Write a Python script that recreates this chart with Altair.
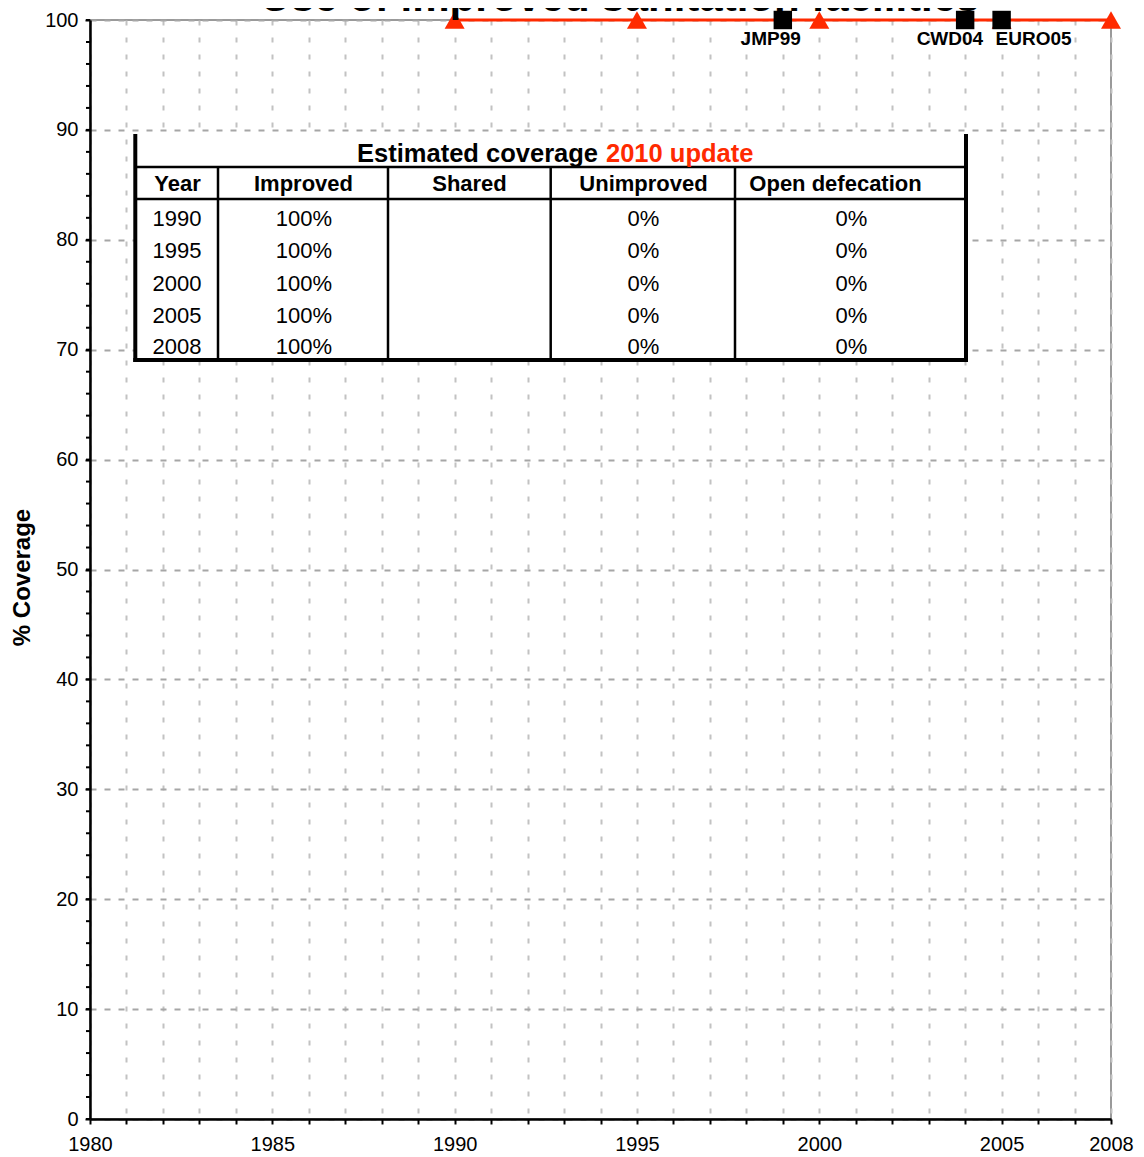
import altair as alt
import pandas as pd

# ---------------- data ----------------
est_years = [1990, 1995, 2000, 2005, 2008]
est_improved = [100, 100, 100, 100, 100]
est_shared = ["", "", "", "", ""]
est_unimproved = [0, 0, 0, 0, 0]
est_open = [0, 0, 0, 0, 0]

survey_names = ["JMP99", "CWD04", "EURO05"]
survey_years = [1999, 2004, 2005]
survey_improved = [100, 100, 100]

x_ticks = list(range(1980, 2009))
y_ticks = list(range(0, 101, 10))
y_minor = list(range(0, 101, 2))

chart_title = "Use of improved sanitation facilities"
y_title = "% Coverage"
table_title = "Estimated coverage"
table_title_red = "2010 update"
table_headers = ["Year", "Improved", "Shared", "Unimproved", "Open defecation"]

# ---------------- layout / style ----------------
W, H = 1021, 1099
X0, X1 = 1980, 2008
RED = "#FF2A00"
FONT = "Liberation Sans"


def ux(px):
    return X0 + px * (X1 - X0) / W


def uy(py):
    return 100 - py * 100 / H


xs = alt.Scale(domain=[X0, X1], nice=False, zero=False)
ys = alt.Scale(domain=[0, 100], nice=False, zero=False)

xaxis = alt.Axis(values=x_ticks, format="d", title=None,
                 labelExpr="(datum.value % 5 == 0 || datum.value == 2008) ? datum.label : ''",
                 labelBaseline="alphabetic", labelPadding=26, labelFontSize=20, labelFlush=False,
                 labelOverlap=False,
                 gridDash=[5, 12], gridColor="#c2c2c2", gridWidth=2, tickSize=5)
yaxis = alt.Axis(values=y_ticks, title=y_title, titleFont=FONT, titleFontSize=24,
                 titleFontWeight="bold", titleX=-68, titleY=557, titleBaseline="middle",
                 titleAlign="center", titleAngle=-90, labelPadding=7, labelFontSize=20,
                 labelFlush=False,
                 gridDash=[6, 8], gridColor="#a6a6a6", gridWidth=2, tickSize=5)


def X(f):
    return alt.X(f, scale=xs, axis=xaxis)


def Y(f):
    return alt.Y(f, scale=ys, axis=yaxis)


# table geometry in plot pixels (converted to data units)
T_L, T_R, T_T, T_B = 45.3, 876, 116, 340
LINE1, LINE2 = 147, 179
COL_LINES = [128, 298, 460.7, 645]
COL_CX = [87, 214, 379.5, 553.5, 761.5]
HEAD_CX = [87.5, 213.5, 379.5, 553.5, 745.5]
ROW_BASE = [206, 238, 271, 303, 334]
HEAD_BASE = 171
TITLE_BASE = 141.5

# ---------------- main series ----------------
est_df = pd.DataFrame({"year": est_years, "value": est_improved})
survey_df = pd.DataFrame({"year": survey_years, "value": survey_improved, "name": survey_names})

line = alt.Chart(est_df).mark_line(color=RED, strokeWidth=3).encode(
    x=X("year:Q"), y=Y("value:Q"))

tri = alt.Chart(est_df).mark_point(shape="triangle-up", filled=True, color=RED, size=400, opacity=1).encode(
    x=X("year:Q"), y=Y("value:Q"))

sq = alt.Chart(survey_df).mark_point(shape="square", filled=True, color="black", size=340, opacity=1).encode(
    x=X("year:Q"), y=Y("value:Q"))

lab_r = alt.Chart(survey_df).transform_filter("datum.year < 2005").mark_text(
    font=FONT, fontSize=19, fontWeight="bold", align="right", baseline="alphabetic", dx=18, dy=25, color="black"
).encode(x=X("year:Q"), y=Y("value:Q"), text="name:N")

lab_l = alt.Chart(survey_df).transform_filter("datum.year >= 2005").mark_text(
    font=FONT, fontSize=19, fontWeight="bold", align="left", baseline="alphabetic", dx=-6, dy=25, color="black"
).encode(x=X("year:Q"), y=Y("value:Q"), text="name:N")

minor = alt.Chart(pd.DataFrame({"value": y_minor})).mark_rule(color="black", strokeWidth=2).encode(
    y=Y("value:Q"), x=alt.value(-4), x2=alt.value(0))

# ---------------- table ----------------
bg_df = pd.DataFrame({"year": [ux(T_L)], "year2": [ux(T_R)], "value": [uy(T_T)], "value2": [uy(T_B)]})
bg = alt.Chart(bg_df).mark_rect(color="white").encode(
    x=X("year:Q"), x2="year2:Q", y=Y("value:Q"), y2="value2:Q")

outer_df = pd.DataFrame({
    "year": [ux(T_L), ux(T_R), ux(T_L)],
    "year2": [ux(T_L), ux(T_R), ux(T_R)],
    "value": [uy(T_T), uy(T_T), uy(T_B)],
    "value2": [uy(T_B), uy(T_B), uy(T_B)],
})
outer = alt.Chart(outer_df).mark_rule(color="black", strokeWidth=4, strokeCap="square").encode(
    x=X("year:Q"), x2="year2:Q", y=Y("value:Q"), y2="value2:Q")

inner_rows = []
for ly in [LINE1, LINE2]:
    inner_rows.append({"year": ux(T_L), "year2": ux(T_R), "value": uy(ly), "value2": uy(ly)})
for lx in COL_LINES:
    inner_rows.append({"year": ux(lx), "year2": ux(lx), "value": uy(LINE1), "value2": uy(T_B)})
inner = alt.Chart(pd.DataFrame(inner_rows)).mark_rule(color="black", strokeWidth=2.5).encode(
    x=X("year:Q"), x2="year2:Q", y=Y("value:Q"), y2="value2:Q")

ttl_df = pd.DataFrame({"year": [ux(508)], "value": [uy(TITLE_BASE)], "t": [table_title]})
ttl2_df = pd.DataFrame({"year": [ux(516)], "value": [uy(TITLE_BASE)], "t": [table_title_red]})
ttl = alt.Chart(ttl_df).mark_text(font=FONT, fontSize=25.5, fontWeight="bold", align="right",
                                  baseline="alphabetic", color="black").encode(
    x=X("year:Q"), y=Y("value:Q"), text="t:N")
ttl2 = alt.Chart(ttl2_df).mark_text(font=FONT, fontSize=25.5, fontWeight="bold", align="left",
                                    baseline="alphabetic", color=RED).encode(
    x=X("year:Q"), y=Y("value:Q"), text="t:N")

head_df = pd.DataFrame({"year": [ux(v) for v in HEAD_CX], "value": [uy(HEAD_BASE)] * 5, "t": table_headers})
heads = alt.Chart(head_df).mark_text(font=FONT, fontSize=22, fontWeight="bold", align="center",
                                     baseline="alphabetic", color="black").encode(
    x=X("year:Q"), y=Y("value:Q"), text="t:N")

cells = []
for i, yr in enumerate(est_years):
    vals = [str(yr), f"{est_improved[i]}%", est_shared[i], f"{est_unimproved[i]}%", f"{est_open[i]}%"]
    for j, v in enumerate(vals):
        if v:
            cells.append({"year": ux(COL_CX[j]), "value": uy(ROW_BASE[i]), "t": v})
cell_chart = alt.Chart(pd.DataFrame(cells)).mark_text(font=FONT, fontSize=22, align="center",
                                                      baseline="alphabetic", color="black").encode(
    x=X("year:Q"), y=Y("value:Q"), text="t:N")

# ---------------- title (mostly above the visible page, as in the reference) ----------------
title_mark = alt.Chart(pd.DataFrame({"t": [chart_title]})).mark_text(
    font=FONT, fontSize=42, fontWeight="bold", align="center", baseline="alphabetic", color="black"
).encode(x=alt.value(530), y=alt.value(-9), text="t:N")

chart = alt.layer(
    line, bg, inner, outer, ttl, ttl2, heads, cell_chart, tri, sq, lab_r, lab_l, minor, title_mark
).properties(
    width=W, height=H, autosize="none",
    padding={"left": 82, "top": 12, "right": 25, "bottom": 37},
).configure_view(
    stroke="#9a9a9a", strokeWidth=2
).configure_axis(
    domainColor="black", domainWidth=2.5, tickColor="black", tickWidth=2,
    labelFont=FONT, labelColor="black", titleColor="black",
)

chart.save("out.html", embed_options={"renderer": "svg", "actions": False})
